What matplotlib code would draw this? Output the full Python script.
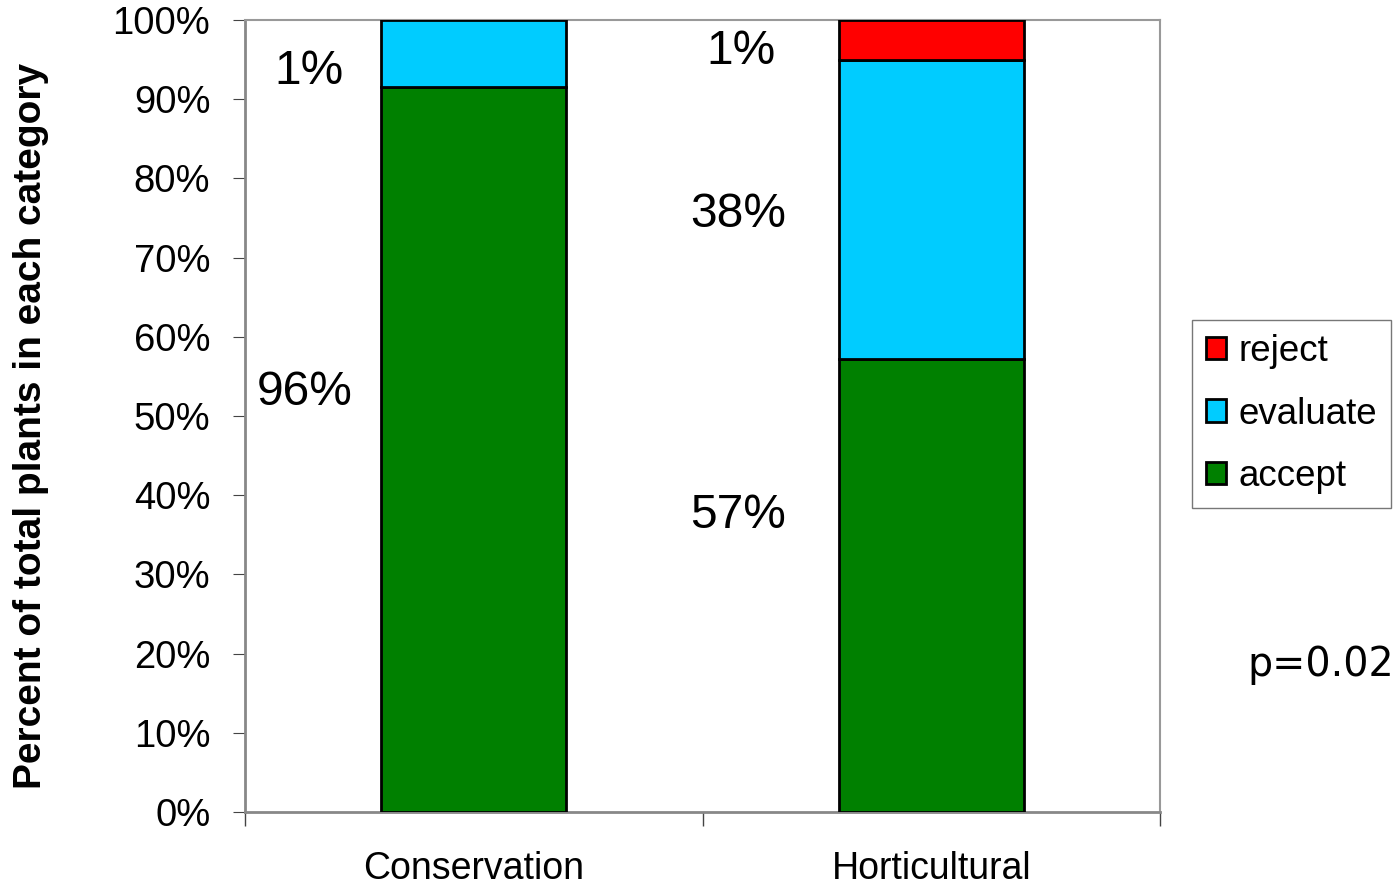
import matplotlib
matplotlib.use("Agg")
import matplotlib.pyplot as plt
from matplotlib.patches import Patch
import numpy as np

categories = ["Conservation", "Horticultural"]
accept = [91.5, 57.2]
evaluate = [8.5, 37.8]
reject = [0.0, 5.0]
series_names = ["accept", "evaluate", "reject"]
colors = {"accept": "#008000", "evaluate": "#00CCFF", "reject": "#FF0000"}
annotations = [  # (x in data units, y in percent, text)
    (0.14, 93.5, "1%"), (0.13, 53, "96%"),
    (1.085, 96, "1%"), (1.077, 75.5, "38%"), (1.077, 37.5, "57%"),
]

plt.rcParams['font.family'] = ['Liberation Sans', 'DejaVu Sans']

fig = plt.figure(figsize=(13.98, 8.89), dpi=100)
ax = fig.add_axes([245/1398, 1 - 812/889, (1160-245)/1398, (812-20)/889])

x = np.array([0.5, 1.5])
width = 0.405
bottom = np.zeros(2)
for name, vals in zip(series_names, [accept, evaluate, reject]):
    vals = np.array(vals)
    mask = vals > 0
    ax.bar(x[mask], vals[mask], width, bottom=bottom[mask], color=colors[name],
           edgecolor="black", linewidth=2, zorder=3)
    bottom = bottom + vals

ax.set_xlim(0, 2)
ax.set_ylim(0, 100)
ax.set_yticks(np.arange(0, 101, 10))
ax.set_yticklabels([f"{v}%" for v in range(0, 101, 10)], fontsize=27.5)
ax.set_xticks([0, 1, 2])
ax.set_xticklabels([])
ax.set_xticks(x, minor=True)
ax.set_xticklabels(categories, minor=True, fontsize=27)
ax.tick_params(axis="x", which="minor", length=0, pad=28)
ax.tick_params(axis="x", which="major", length=10, direction="out", color="#444444", width=1)
ax.tick_params(axis="y", length=9, direction="out", color="#444444", pad=16)

for side in ["left", "bottom"]:
    ax.spines[side].set_color("#888888")
    ax.spines[side].set_linewidth(2)
for side in ["top", "right"]:
    ax.spines[side].set_color("#999999")
    ax.spines[side].set_linewidth(1.5)

ax.set_ylabel("Percent of total plants in each category", fontsize=28,
              fontweight="bold")
ax.yaxis.set_label_coords((49-245)/915, 0.487)

for xx, yy, t in annotations:
    ax.text(xx, yy, t, fontsize=34.5, ha="center", va="center")

handles = [Patch(facecolor=colors[n], edgecolor="black", linewidth=2, label=n)
           for n in ["reject", "evaluate", "accept"]]
leg = fig.legend(handles=handles, loc="upper left",
                 bbox_to_anchor=(1192/1398, 1 - 320/889), fontsize=26.5,
                 frameon=True, fancybox=False, edgecolor="#555555",
                 handlelength=0.55, handleheight=0.55, handletextpad=0.32,
                 labelspacing=0.75, borderpad=0.38, borderaxespad=0)
leg.get_frame().set_linewidth(1)

fig.text(1394/1398, 1 - 665/889, "p=0.02", fontsize=28.5, ha="right", va="center",
         family="DejaVu Sans")

fig.savefig("out.png", dpi=100)
